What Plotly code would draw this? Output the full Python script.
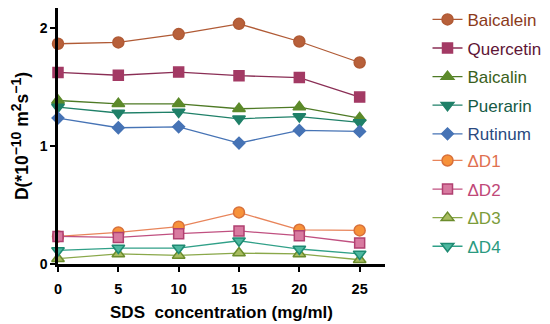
import plotly.graph_objects as go

conc = [0, 5, 10, 15, 20, 25]
x_ticks = [0, 5, 10, 15, 20, 25]
y_ticks = [0, 1, 2]

baicalein = [1.867, 1.878, 1.949, 2.036, 1.886, 1.708]
quercetin = [1.624, 1.600, 1.627, 1.596, 1.580, 1.415]
baicalin = [1.386, 1.358, 1.358, 1.316, 1.330, 1.237]
puerarin = [1.330, 1.280, 1.288, 1.231, 1.250, 1.200]
rutinum = [1.237, 1.155, 1.163, 1.025, 1.132, 1.124]
dD1 = [0.234, 0.268, 0.316, 0.437, 0.290, 0.285]
dD2 = [0.234, 0.225, 0.257, 0.280, 0.240, 0.178]
dD3 = [0.045, 0.085, 0.073, 0.093, 0.085, 0.036]
dD4 = [0.115, 0.135, 0.135, 0.197, 0.127, 0.085]

series = [
    ("Baicalein", baicalein, "circle", 11, "#B8603A", "#B05A35", "#B05A35", "#8B3A1A", "legend"),
    ("Quercetin", quercetin, "square", 10, "#A33A64", "#A33A64", "#8A2E55", "#5E1535", "legend"),
    ("Baicalin", baicalin, "triangle-up", 11, "#5C8A2A", "#5C8A2A", "#4E7A25", "#3A6020", "legend"),
    ("Puerarin", puerarin, "triangle-down", 11, "#1F8068", "#1F8068", "#1F8068", "#155A45", "legend"),
    ("Rutinum", rutinum, "diamond", 9, "#4673B5", "#4673B5", "#4673B5", "#2A4A80", "legend"),
    ("ΔD1", dD1, "circle", 11, "#F7923A", "#D8703A", "#E8845A", "#E07050", "legend2"),
    ("ΔD2", dD2, "square", 10, "#D87AA0", "#B04070", "#C05080", "#C04878", "legend2"),
    ("ΔD3", dD3, "triangle-up", 11, "#A8BC60", "#6B8C2C", "#8AA84A", "#7C9C3A", "legend2"),
    ("ΔD4", dD4, "triangle-down", 11, "#4DB8A0", "#1E8A72", "#30A088", "#2A9A80", "legend2"),
]

fig = go.Figure()
for i, (name, vals, sym, sz, fill, edge, lcol, tcol, leg) in enumerate(series):
    fig.add_trace(go.Scatter(
        x=conc, y=vals, mode="lines+markers",
        name=f"<span style='color:{tcol}'>{name}</span>",
        legendgroup=f"g{i}", legend=leg,
        line=dict(color=lcol, width=1.3),
        marker=dict(symbol=sym, size=sz, color=fill, line=dict(color=edge, width=1.5)),
        cliponaxis=False,
    ))

leg_common = dict(xanchor="left", yanchor="top", font=dict(size=17),
                  tracegroupgap=3.5, itemwidth=30, bgcolor="rgba(0,0,0,0)")

fig.update_layout(
    width=542, height=316,
    margin=dict(l=50, r=165, t=0, b=60, autoexpand=False),
    plot_bgcolor="white", paper_bgcolor="white",
    font=dict(family="Liberation Sans, Arial, sans-serif", color="black"),
    legend=dict(x=1.13, y=1.024, **leg_common),
    legend2=dict(x=1.13, y=0.473, **leg_common),
    xaxis=dict(range=[0, 27.1], tickvals=x_ticks, showgrid=False, zeroline=False,
               showline=True, linecolor="black", linewidth=2.5,
               ticks="outside", ticklen=5, tickwidth=2, tickcolor="black",
               ticklabelstandoff=5,
               tickfont=dict(size=14.5, family="Liberation Sans, Arial, sans-serif", weight="bold"),
               title=dict(text="<b>SDS  concentration (mg/ml)</b>", font=dict(size=17), standoff=10)),
    yaxis=dict(range=[0, 2.17], tickvals=y_ticks, showgrid=False, zeroline=False,
               showline=True, linecolor="black", linewidth=2.5,
               ticks="outside", ticklen=5, tickwidth=2, tickcolor="black",
               tickfont=dict(size=14, family="Liberation Sans, Arial, sans-serif", weight="bold"),
               title=dict(text="<b>D(*10<sup><span style='font-size:14px'>−10</span></sup> m<sup><span style='font-size:14px'>2</span></sup>s<sup><span style='font-size:14px'>−1</span></sup>)</b>",
                          font=dict(size=17.5), standoff=15)),
)

fig.write_html("out.html")
